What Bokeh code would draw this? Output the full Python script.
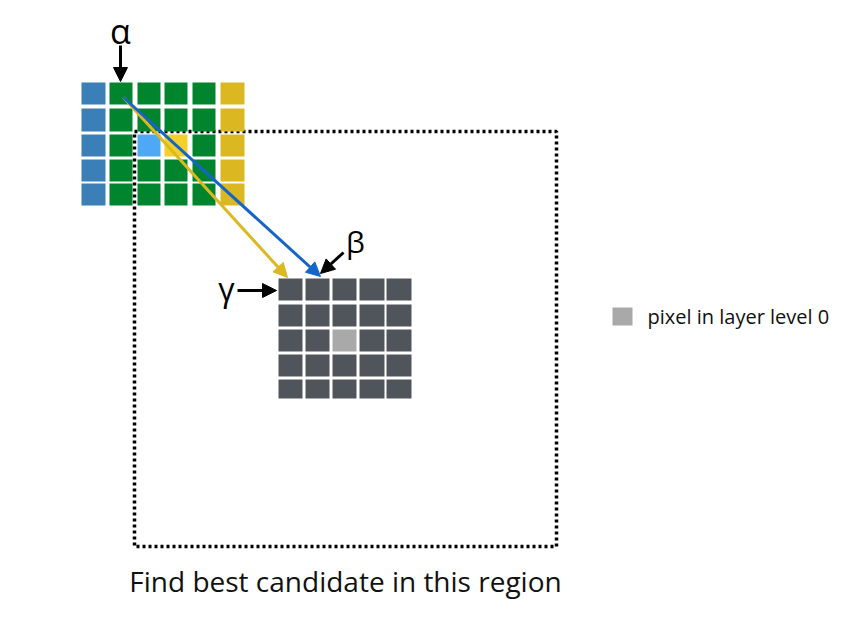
from bokeh.plotting import figure
from bokeh.models import Range1d, Arrow, NormalHead
from bokeh.core.properties import value
from bokeh.embed import file_html
from bokeh.resources import INLINE

# source grid (top left): column edges and row edges in picture pixels
src_cols = [(81, 105), (109, 132), (137, 160), (164, 187), (192, 215), (220, 244)]
src_rows = [(82, 104), (108, 131), (134, 156), (159, 181), (183, 205)]
src_col_colors = ["#3a7fb8", "#00852e", "#00852e", "#00852e", "#00852e", "#dbb821"]
special_cells = {(2, 2): "#4ea8f5", (3, 2): "#f5cf2a"}

# target grid (gray)
dst_cols = [(278, 302), (305, 329), (332, 356), (359, 384), (386, 411)]
dst_rows = [(278, 300), (304, 326), (329, 351), (354, 376), (379, 398)]
dst_center = (2, 2)

# search region
region = (134, 556, 131, 546)

p = figure(width=849, height=603, output_backend="svg", toolbar_location=None,
           x_range=Range1d(0, 849), y_range=Range1d(603, 0),
           min_border=0, outline_line_color=None)
p.axis.visible = False
p.grid.visible = False

x0, x1, y0, y1 = region
p.line([x0, x1, x1, x0, x0], [y0, y0, y1, y1, y0], line_color="black",
       line_width=3.5, line_dash="3 3")

l, r, t, b, c = [], [], [], [], []
for i, (a, e) in enumerate(src_cols):
    for j, (ty, by) in enumerate(src_rows):
        l.append(a); r.append(e); t.append(ty); b.append(by)
        c.append(special_cells.get((i, j), src_col_colors[i]))
for i, (a, e) in enumerate(dst_cols):
    for j, (ty, by) in enumerate(dst_rows):
        l.append(a); r.append(e); t.append(ty); b.append(by)
        c.append("#a8a9a8" if (i, j) == dst_center else "#50545b")
p.quad(left=l, right=r, top=t, bottom=b, fill_color=c, line_color=None)

def arrow(xs, ys, xe, ye, color):
    p.add_layout(Arrow(end=NormalHead(size=14, fill_color=color, line_color=color),
                       x_start=xs, y_start=ys, x_end=xe, y_end=ye,
                       line_color=color, line_width=3))

arrow(123, 97, 287, 277, "#dcb823")
arrow(123, 97, 320, 276, "#1565c8")
arrow(120, 45, 120, 81, "black")
arrow(343, 252, 320, 273, "black")
arrow(237, 290, 276, 290, "black")

font = value("Open Sans")
p.text(x=[120], y=[30], text=["α"], text_font=font, text_font_size="34px",
       text_align="center", text_baseline="middle")
p.text(x=[355], y=[241], text=["β"], text_font=font, text_font_size="30px",
       text_align="center", text_baseline="middle")
p.text(x=[226], y=[288], text=["γ"], text_font=font, text_font_size="32px",
       text_align="center", text_baseline="middle")

p.quad(left=[612], right=[632], top=[307], bottom=[325], fill_color="#a8a9a8", line_color=None)
p.text(x=[647], y=[316], text=["pixel in layer level 0"], text_font=font,
       text_font_size="20px", text_baseline="middle", text_color="#111111")
p.text(x=[345], y=[580], text=["Find best candidate in this region"], text_font=font,
       text_font_size="28px", text_align="center", text_baseline="middle", text_color="#111111")

open("out.html", "w").write(file_html(p, INLINE))
